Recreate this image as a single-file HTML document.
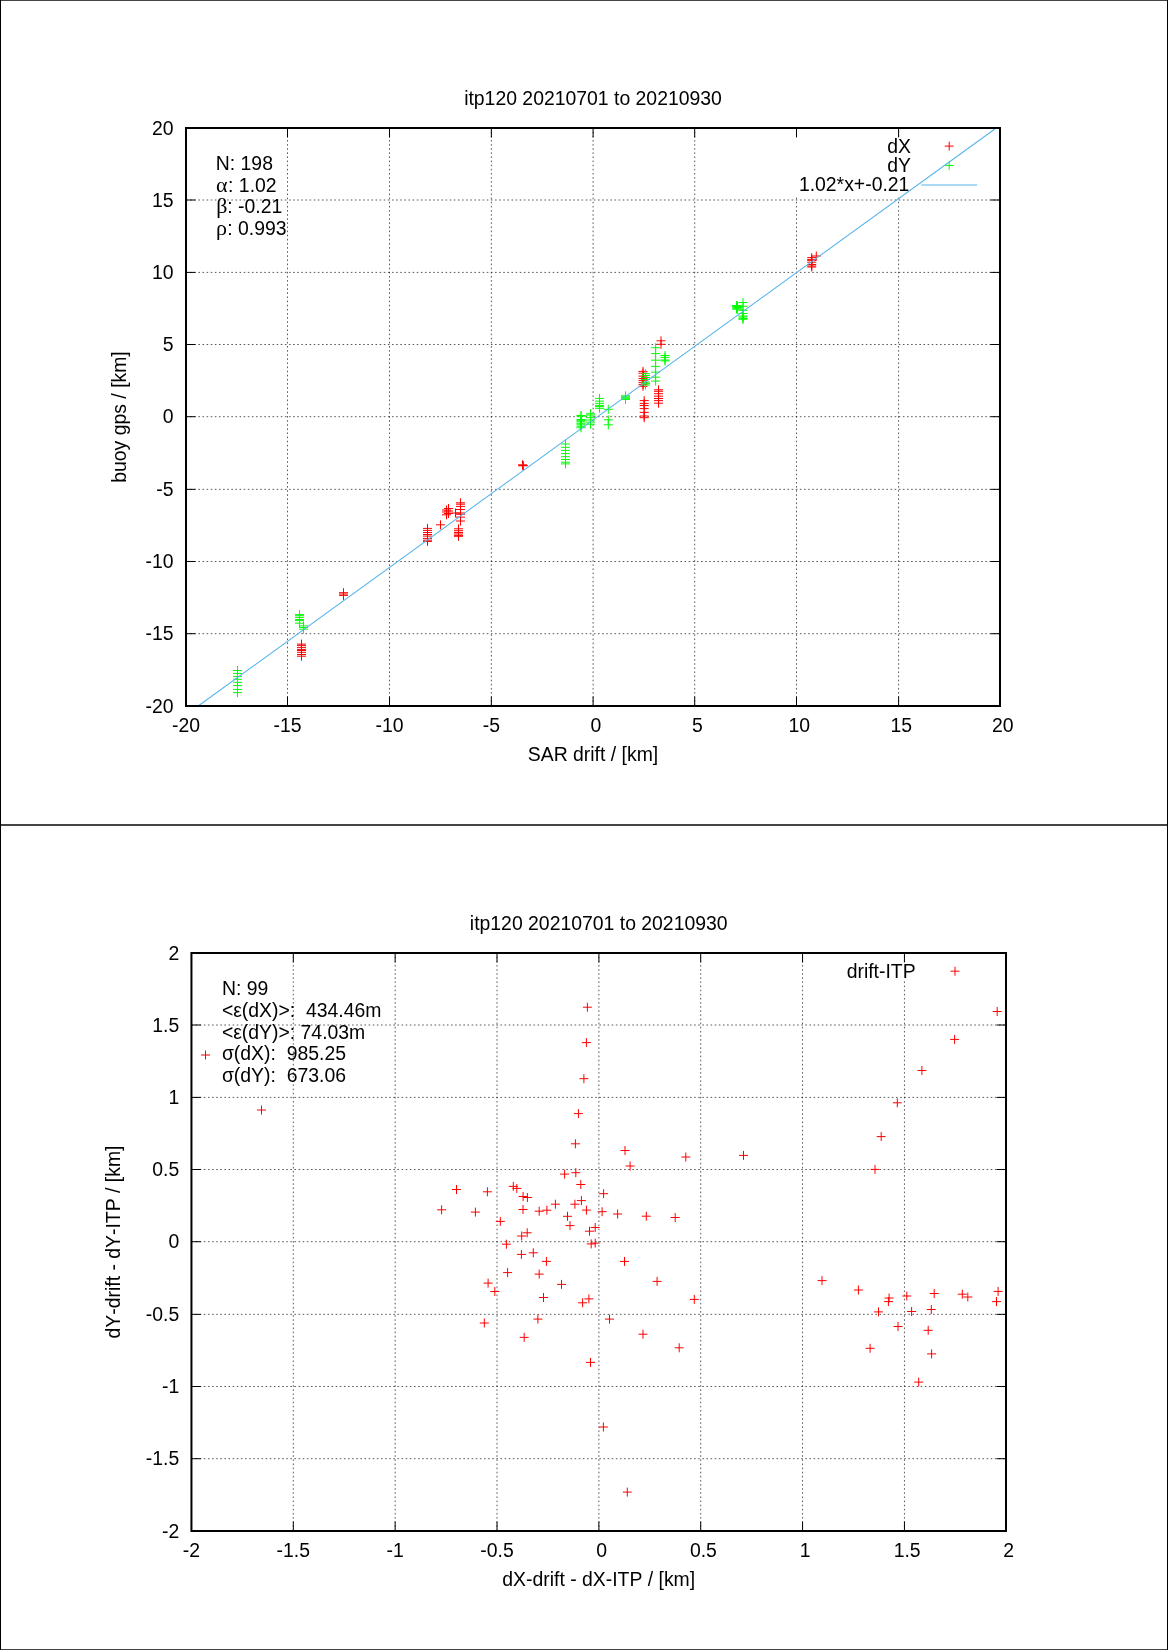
<!DOCTYPE html><html><head><meta charset="utf-8"><title>itp120 drift</title><style>html,body{margin:0;padding:0;background:#fff}body{width:1168px;height:1650px;overflow:hidden}svg{display:block}text{white-space:pre;font-kerning:none}</style></head><body>
<svg width="1168" height="1650" viewBox="0 0 1168 1650" style="will-change:transform">
<rect x="0" y="0" width="1168" height="1650" fill="#fff"/>
<g>
<path d="M186.000 706.000v-9.4M186.000 128.000v9.4M287.500 706.000v-9.4M287.500 128.000v9.4M389.500 706.000v-9.4M389.500 128.000v9.4M491.350 706.000v-9.4M491.350 128.000v9.4M593.100 706.000v-9.4M593.100 128.000v9.4M694.700 706.000v-9.4M694.700 128.000v9.4M796.500 706.000v-9.4M796.500 128.000v9.4M898.600 706.000v-9.4M898.600 128.000v9.4M1000.000 706.000v-9.4M1000.000 128.000v9.4M186.000 706.000h9.4M1000.000 706.000h-9.4M186.000 633.700h9.4M1000.000 633.700h-9.4M186.000 561.500h9.4M1000.000 561.500h-9.4M186.000 489.350h9.4M1000.000 489.350h-9.4M186.000 416.700h9.4M1000.000 416.700h-9.4M186.000 344.500h9.4M1000.000 344.500h-9.4M186.000 272.400h9.4M1000.000 272.400h-9.4M186.000 200.000h9.4M1000.000 200.000h-9.4M186.000 128.000h9.4M1000.000 128.000h-9.4" stroke="#000" stroke-width="1" fill="none"/>
<text x="186.00" y="732.20" text-anchor="middle" font-size="19.4" font-family="'Liberation Sans', Arial, Helvetica, sans-serif" >-20</text>
<text x="287.50" y="732.20" text-anchor="middle" font-size="19.4" font-family="'Liberation Sans', Arial, Helvetica, sans-serif" >-15</text>
<text x="389.50" y="732.20" text-anchor="middle" font-size="19.4" font-family="'Liberation Sans', Arial, Helvetica, sans-serif" >-10</text>
<text x="491.35" y="732.20" text-anchor="middle" font-size="19.4" font-family="'Liberation Sans', Arial, Helvetica, sans-serif" >-5</text>
<text x="593.10" y="732.20" text-anchor="middle" font-size="19.4" font-family="'Liberation Sans', Arial, Helvetica, sans-serif" > 0</text>
<text x="694.70" y="732.20" text-anchor="middle" font-size="19.4" font-family="'Liberation Sans', Arial, Helvetica, sans-serif" > 5</text>
<text x="796.50" y="732.20" text-anchor="middle" font-size="19.4" font-family="'Liberation Sans', Arial, Helvetica, sans-serif" > 10</text>
<text x="898.60" y="732.20" text-anchor="middle" font-size="19.4" font-family="'Liberation Sans', Arial, Helvetica, sans-serif" > 15</text>
<text x="1000.00" y="732.20" text-anchor="middle" font-size="19.4" font-family="'Liberation Sans', Arial, Helvetica, sans-serif" > 20</text>
<text x="173.60" y="712.50" text-anchor="end" font-size="19.4" font-family="'Liberation Sans', Arial, Helvetica, sans-serif" >-20</text>
<text x="173.60" y="640.20" text-anchor="end" font-size="19.4" font-family="'Liberation Sans', Arial, Helvetica, sans-serif" >-15</text>
<text x="173.60" y="568.00" text-anchor="end" font-size="19.4" font-family="'Liberation Sans', Arial, Helvetica, sans-serif" >-10</text>
<text x="173.60" y="495.85" text-anchor="end" font-size="19.4" font-family="'Liberation Sans', Arial, Helvetica, sans-serif" >-5</text>
<text x="173.60" y="423.20" text-anchor="end" font-size="19.4" font-family="'Liberation Sans', Arial, Helvetica, sans-serif" > 0</text>
<text x="173.60" y="351.00" text-anchor="end" font-size="19.4" font-family="'Liberation Sans', Arial, Helvetica, sans-serif" > 5</text>
<text x="173.60" y="278.90" text-anchor="end" font-size="19.4" font-family="'Liberation Sans', Arial, Helvetica, sans-serif" > 10</text>
<text x="173.60" y="206.50" text-anchor="end" font-size="19.4" font-family="'Liberation Sans', Arial, Helvetica, sans-serif" > 15</text>
<text x="173.60" y="134.50" text-anchor="end" font-size="19.4" font-family="'Liberation Sans', Arial, Helvetica, sans-serif" > 20</text>
<text x="593.00" y="105.00" text-anchor="middle" font-size="19.4" font-family="'Liberation Sans', Arial, Helvetica, sans-serif" >itp120 20210701 to 20210930</text>
<text x="593.00" y="761.10" text-anchor="middle" font-size="19.4" font-family="'Liberation Sans', Arial, Helvetica, sans-serif" >SAR drift / [km]</text>
<text x="0" y="0" transform="translate(126.30 417.00) rotate(-90)" text-anchor="middle" font-size="19.4" font-family="'Liberation Sans', Arial, Helvetica, sans-serif">buoy gps / [km]</text>
<text x="215.80" y="170.00" text-anchor="start" font-size="19.4" font-family="'Liberation Sans', Arial, Helvetica, sans-serif" >N: 198</text>
<text y="191.7" font-size="19.4" font-family="'Liberation Sans', Arial, Helvetica, sans-serif"><tspan x="215.9" font-family="'Liberation Serif', 'Times New Roman', serif" font-size="22">α</tspan><tspan x="228.1">: 1.02</tspan></text>
<text y="213.4" font-size="19.4" font-family="'Liberation Sans', Arial, Helvetica, sans-serif"><tspan x="216.3" font-family="'Liberation Serif', 'Times New Roman', serif" font-size="22">β</tspan><tspan x="227.3">: -0.21</tspan></text>
<text y="235.1" font-size="19.4" font-family="'Liberation Sans', Arial, Helvetica, sans-serif"><tspan x="216.0" font-family="'Liberation Serif', 'Times New Roman', serif" font-size="22">ρ</tspan><tspan x="227.3">: 0.993</tspan></text>
<text x="910.90" y="152.90" text-anchor="end" font-size="19.4" font-family="'Liberation Sans', Arial, Helvetica, sans-serif" >dX</text>
<text x="910.90" y="171.90" text-anchor="end" font-size="19.4" font-family="'Liberation Sans', Arial, Helvetica, sans-serif" >dY</text>
<text x="909.40" y="190.90" text-anchor="end" font-size="19.4" font-family="'Liberation Sans', Arial, Helvetica, sans-serif" >1.02*x+-0.21</text>
<path d="M287.500 706.000V128.000M389.500 706.000V128.000M491.350 706.000V128.000M593.100 706.000V128.000M694.700 706.000V128.000M796.500 706.000V196.000M796.500 136.500V128.000M898.600 706.000V196.000M898.600 136.500V128.000M186.000 633.700H1000.000M186.000 561.500H1000.000M186.000 489.350H1000.000M186.000 416.700H1000.000M186.000 344.500H1000.000M186.000 272.400H1000.000M186.000 200.000H1000.000" stroke="#000" stroke-width="0.65" stroke-dasharray="1.6 2.52" fill="none"/>
<path d="M297.00 644.10h9.00M301.50 639.60v9.00M297.00 645.40h9.00M301.50 640.90v9.00M297.00 647.40h9.00M301.50 642.90v9.00M297.00 649.40h9.00M301.50 644.90v9.00M297.00 650.50h9.00M301.50 646.00v9.00M297.00 652.30h9.00M301.50 647.80v9.00M297.00 654.50h9.00M301.50 650.00v9.00M297.00 656.20h9.00M301.50 651.70v9.00M339.00 592.70h9.00M343.50 588.20v9.00M339.00 594.00h9.00M343.50 589.50v9.00M339.00 595.40h9.00M343.50 590.90v9.00M423.00 528.40h9.00M427.50 523.90v9.00M423.00 530.40h9.00M427.50 525.90v9.00M423.00 532.50h9.00M427.50 528.00v9.00M423.00 534.50h9.00M427.50 530.00v9.00M423.00 536.10h9.00M427.50 531.60v9.00M423.00 538.40h9.00M427.50 533.90v9.00M423.00 540.20h9.00M427.50 535.70v9.00M423.00 541.40h9.00M427.50 536.90v9.00M436.00 524.80h9.00M440.50 520.30v9.00M442.00 510.00h9.00M446.50 505.50v9.00M442.00 512.00h9.00M446.50 507.50v9.00M442.00 514.80h9.00M446.50 510.30v9.00M444.00 508.50h9.00M448.50 504.00v9.00M444.00 511.00h9.00M448.50 506.50v9.00M444.00 513.50h9.00M448.50 509.00v9.00M451.00 513.00h9.00M455.50 508.50v9.00M456.00 502.80h9.00M460.50 498.30v9.00M456.00 504.20h9.00M460.50 499.70v9.00M456.00 506.40h9.00M460.50 501.90v9.00M456.00 509.50h9.00M460.50 505.00v9.00M456.00 513.00h9.00M460.50 508.50v9.00M456.00 514.30h9.00M460.50 509.80v9.00M456.00 517.10h9.00M460.50 512.60v9.00M456.00 521.00h9.00M460.50 516.50v9.00M454.00 528.80h9.00M458.50 524.30v9.00M454.00 530.70h9.00M458.50 526.20v9.00M454.00 532.50h9.00M458.50 528.00v9.00M454.00 534.00h9.00M458.50 529.50v9.00M454.00 535.60h9.00M458.50 531.10v9.00M454.00 536.30h9.00M458.50 531.80v9.00M518.00 464.80h9.00M522.50 460.30v9.00M518.80 465.50h9.00M523.30 461.00v9.00M518.30 465.80h9.00M522.80 461.30v9.00M638.50 371.40h9.00M643.00 366.90v9.00M638.50 373.20h9.00M643.00 368.70v9.00M638.50 376.10h9.00M643.00 371.60v9.00M638.50 378.40h9.00M643.00 373.90v9.00M638.50 380.40h9.00M643.00 375.90v9.00M638.50 382.40h9.00M643.00 377.90v9.00M638.50 384.40h9.00M643.00 379.90v9.00M638.50 386.30h9.00M643.00 381.80v9.00M639.70 400.60h9.00M644.20 396.10v9.00M639.70 403.40h9.00M644.20 398.90v9.00M639.70 405.50h9.00M644.20 401.00v9.00M639.70 408.60h9.00M644.20 404.10v9.00M639.70 412.40h9.00M644.20 407.90v9.00M639.70 416.00h9.00M644.20 411.50v9.00M639.70 417.70h9.00M644.20 413.20v9.00M656.50 340.80h9.00M661.00 336.30v9.00M656.50 344.30h9.00M661.00 339.80v9.00M654.00 389.80h9.00M658.50 385.30v9.00M654.00 391.30h9.00M658.50 386.80v9.00M654.00 393.70h9.00M658.50 389.20v9.00M654.00 396.20h9.00M658.50 391.70v9.00M654.00 398.50h9.00M658.50 394.00v9.00M654.00 400.60h9.00M658.50 396.10v9.00M654.00 403.20h9.00M658.50 398.70v9.00M807.20 257.60h9.00M811.70 253.10v9.00M807.20 259.40h9.00M811.70 254.90v9.00M807.20 260.40h9.00M811.70 255.90v9.00M807.20 262.20h9.00M811.70 257.70v9.00M807.20 264.50h9.00M811.70 260.00v9.00M807.20 266.00h9.00M811.70 261.50v9.00M807.20 267.00h9.00M811.70 262.50v9.00M811.80 256.00h9.00M816.30 251.50v9.00M944.70 146.10h9.00M949.20 141.60v9.00" stroke="#ff0000" stroke-width="1" fill="none"/>
<path d="M233.00 670.50h9.00M237.50 666.00v9.00M233.00 673.40h9.00M237.50 668.90v9.00M233.00 676.40h9.00M237.50 671.90v9.00M233.00 679.30h9.00M237.50 674.80v9.00M233.00 682.30h9.00M237.50 677.80v9.00M233.00 685.60h9.00M237.50 681.10v9.00M233.00 689.40h9.00M237.50 684.90v9.00M233.00 692.60h9.00M237.50 688.10v9.00M295.00 614.60h9.00M299.50 610.10v9.00M295.00 615.70h9.00M299.50 611.20v9.00M295.00 617.40h9.00M299.50 612.90v9.00M295.00 619.50h9.00M299.50 615.00v9.00M295.00 620.60h9.00M299.50 616.10v9.00M295.00 623.20h9.00M299.50 618.70v9.00M299.00 625.90h9.00M303.50 621.40v9.00M299.00 627.50h9.00M303.50 623.00v9.00M299.00 629.20h9.00M303.50 624.70v9.00M561.00 444.00h9.00M565.50 439.50v9.00M561.00 447.30h9.00M565.50 442.80v9.00M561.00 450.40h9.00M565.50 445.90v9.00M561.00 453.60h9.00M565.50 449.10v9.00M561.00 456.70h9.00M565.50 452.20v9.00M561.00 459.50h9.00M565.50 455.00v9.00M561.00 462.20h9.00M565.50 457.70v9.00M561.00 463.90h9.00M565.50 459.40v9.00M576.50 415.50h9.00M581.00 411.00v9.00M576.50 416.20h9.00M581.00 411.70v9.00M576.50 419.50h9.00M581.00 415.00v9.00M576.50 420.70h9.00M581.00 416.20v9.00M576.50 421.80h9.00M581.00 417.30v9.00M576.50 423.30h9.00M581.00 418.80v9.00M576.50 424.80h9.00M581.00 420.30v9.00M576.50 426.30h9.00M581.00 421.80v9.00M576.50 427.80h9.00M581.00 423.30v9.00M586.00 413.80h9.00M590.50 409.30v9.00M586.00 415.00h9.00M590.50 410.50v9.00M586.00 417.70h9.00M590.50 413.20v9.00M586.00 420.00h9.00M590.50 415.50v9.00M586.00 422.10h9.00M590.50 417.60v9.00M586.00 424.20h9.00M590.50 419.70v9.00M595.00 398.40h9.00M599.50 393.90v9.00M595.00 401.10h9.00M599.50 396.60v9.00M595.00 403.30h9.00M599.50 398.80v9.00M595.00 405.40h9.00M599.50 400.90v9.00M595.00 406.60h9.00M599.50 402.10v9.00M595.00 408.30h9.00M599.50 403.80v9.00M603.80 409.30h9.00M608.30 404.80v9.00M603.80 419.80h9.00M608.30 415.30v9.00M603.80 424.80h9.00M608.30 420.30v9.00M621.00 395.80h9.00M625.50 391.30v9.00M621.00 396.80h9.00M625.50 392.30v9.00M621.00 397.80h9.00M625.50 393.30v9.00M621.00 398.80h9.00M625.50 394.30v9.00M621.00 399.40h9.00M625.50 394.90v9.00M641.00 373.70h9.00M645.50 369.20v9.00M641.00 375.50h9.00M645.50 371.00v9.00M641.00 377.50h9.00M645.50 373.00v9.00M641.00 379.50h9.00M645.50 375.00v9.00M641.00 382.10h9.00M645.50 377.60v9.00M641.00 383.60h9.00M645.50 379.10v9.00M641.00 385.00h9.00M645.50 380.50v9.00M651.10 347.70h9.00M655.60 343.20v9.00M651.10 353.60h9.00M655.60 349.10v9.00M651.10 360.20h9.00M655.60 355.70v9.00M651.10 366.40h9.00M655.60 361.90v9.00M651.10 372.10h9.00M655.60 367.60v9.00M651.10 377.20h9.00M655.60 372.70v9.00M651.10 381.10h9.00M655.60 376.60v9.00M660.50 355.50h9.00M665.00 351.00v9.00M660.50 357.40h9.00M665.00 352.90v9.00M660.50 360.00h9.00M665.00 355.50v9.00M660.50 360.90h9.00M665.00 356.40v9.00M732.00 305.60h9.00M736.50 301.10v9.00M732.00 306.40h9.00M736.50 301.90v9.00M732.00 307.80h9.00M736.50 303.30v9.00M732.00 309.00h9.00M736.50 304.50v9.00M733.00 305.80h9.00M737.50 301.30v9.00M733.00 307.50h9.00M737.50 303.00v9.00M733.00 309.10h9.00M737.50 304.60v9.00M738.50 302.50h9.00M743.00 298.00v9.00M738.50 306.30h9.00M743.00 301.80v9.00M738.50 310.40h9.00M743.00 305.90v9.00M738.50 313.50h9.00M743.00 309.00v9.00M738.50 316.00h9.00M743.00 311.50v9.00M738.50 317.10h9.00M743.00 312.60v9.00M738.50 318.60h9.00M743.00 314.10v9.00M738.50 319.30h9.00M743.00 314.80v9.00M944.70 165.40h9.00M949.20 160.90v9.00" stroke="#00ff00" stroke-width="1" fill="none"/>
<path d="M198.17 706.00L996.21 128.00M921.4 184.9H977" stroke="#56b4e9" stroke-width="1.05" fill="none"/>
<rect x="186" y="128" width="814" height="578" fill="none" stroke="#000" stroke-width="2"/>
</g>
<g>
<path d="M191.450 1531.000v-9.4M191.450 953.000v9.4M293.300 1531.000v-9.4M293.300 953.000v9.4M395.150 1531.000v-9.4M395.150 953.000v9.4M497.000 1531.000v-9.4M497.000 953.000v9.4M598.900 1531.000v-9.4M598.900 953.000v9.4M700.700 1531.000v-9.4M700.700 953.000v9.4M802.550 1531.000v-9.4M802.550 953.000v9.4M904.450 1531.000v-9.4M904.450 953.000v9.4M1006.000 1531.000v-9.4M1006.000 953.000v9.4M191.450 1531.000h9.4M1006.000 1531.000h-9.4M191.450 1458.700h9.4M1006.000 1458.700h-9.4M191.450 1386.500h9.4M1006.000 1386.500h-9.4M191.450 1314.350h9.4M1006.000 1314.350h-9.4M191.450 1241.700h9.4M1006.000 1241.700h-9.4M191.450 1169.500h9.4M1006.000 1169.500h-9.4M191.450 1097.400h9.4M1006.000 1097.400h-9.4M191.450 1025.000h9.4M1006.000 1025.000h-9.4M191.450 953.000h9.4M1006.000 953.000h-9.4" stroke="#000" stroke-width="1" fill="none"/>
<text x="191.45" y="1557.20" text-anchor="middle" font-size="19.4" font-family="'Liberation Sans', Arial, Helvetica, sans-serif" >-2</text>
<text x="293.30" y="1557.20" text-anchor="middle" font-size="19.4" font-family="'Liberation Sans', Arial, Helvetica, sans-serif" >-1.5</text>
<text x="395.15" y="1557.20" text-anchor="middle" font-size="19.4" font-family="'Liberation Sans', Arial, Helvetica, sans-serif" >-1</text>
<text x="497.00" y="1557.20" text-anchor="middle" font-size="19.4" font-family="'Liberation Sans', Arial, Helvetica, sans-serif" >-0.5</text>
<text x="598.90" y="1557.20" text-anchor="middle" font-size="19.4" font-family="'Liberation Sans', Arial, Helvetica, sans-serif" > 0</text>
<text x="700.70" y="1557.20" text-anchor="middle" font-size="19.4" font-family="'Liberation Sans', Arial, Helvetica, sans-serif" > 0.5</text>
<text x="802.55" y="1557.20" text-anchor="middle" font-size="19.4" font-family="'Liberation Sans', Arial, Helvetica, sans-serif" > 1</text>
<text x="904.45" y="1557.20" text-anchor="middle" font-size="19.4" font-family="'Liberation Sans', Arial, Helvetica, sans-serif" > 1.5</text>
<text x="1006.00" y="1557.20" text-anchor="middle" font-size="19.4" font-family="'Liberation Sans', Arial, Helvetica, sans-serif" > 2</text>
<text x="179.20" y="1537.50" text-anchor="end" font-size="19.4" font-family="'Liberation Sans', Arial, Helvetica, sans-serif" >-2</text>
<text x="179.20" y="1465.20" text-anchor="end" font-size="19.4" font-family="'Liberation Sans', Arial, Helvetica, sans-serif" >-1.5</text>
<text x="179.20" y="1393.00" text-anchor="end" font-size="19.4" font-family="'Liberation Sans', Arial, Helvetica, sans-serif" >-1</text>
<text x="179.20" y="1320.85" text-anchor="end" font-size="19.4" font-family="'Liberation Sans', Arial, Helvetica, sans-serif" >-0.5</text>
<text x="179.20" y="1248.20" text-anchor="end" font-size="19.4" font-family="'Liberation Sans', Arial, Helvetica, sans-serif" > 0</text>
<text x="179.20" y="1176.00" text-anchor="end" font-size="19.4" font-family="'Liberation Sans', Arial, Helvetica, sans-serif" > 0.5</text>
<text x="179.20" y="1103.90" text-anchor="end" font-size="19.4" font-family="'Liberation Sans', Arial, Helvetica, sans-serif" > 1</text>
<text x="179.20" y="1031.50" text-anchor="end" font-size="19.4" font-family="'Liberation Sans', Arial, Helvetica, sans-serif" > 1.5</text>
<text x="179.20" y="959.50" text-anchor="end" font-size="19.4" font-family="'Liberation Sans', Arial, Helvetica, sans-serif" > 2</text>
<text x="598.73" y="930.00" text-anchor="middle" font-size="19.4" font-family="'Liberation Sans', Arial, Helvetica, sans-serif" >itp120 20210701 to 20210930</text>
<text x="598.73" y="1586.10" text-anchor="middle" font-size="19.4" font-family="'Liberation Sans', Arial, Helvetica, sans-serif" >dX-drift - dX-ITP / [km]</text>
<text x="0" y="0" transform="translate(120.30 1242.00) rotate(-90)" text-anchor="middle" font-size="19.4" font-family="'Liberation Sans', Arial, Helvetica, sans-serif">dY-drift - dY-ITP / [km]</text>
<text x="221.90" y="995.00" text-anchor="start" font-size="19.4" font-family="'Liberation Sans', Arial, Helvetica, sans-serif" >N: 99</text>
<text x="221.90" y="1016.80" text-anchor="start" font-size="19.4" font-family="'Liberation Sans', Arial, Helvetica, sans-serif" >&lt;ε(dX)&gt;:  434.46m</text>
<text x="221.90" y="1038.50" text-anchor="start" font-size="19.4" font-family="'Liberation Sans', Arial, Helvetica, sans-serif" >&lt;ε(dY)&gt;: 74.03m</text>
<text x="221.90" y="1060.20" text-anchor="start" font-size="19.4" font-family="'Liberation Sans', Arial, Helvetica, sans-serif" >σ(dX):  985.25</text>
<text x="221.90" y="1081.90" text-anchor="start" font-size="19.4" font-family="'Liberation Sans', Arial, Helvetica, sans-serif" >σ(dY):  673.06</text>
<text x="915.60" y="977.90" text-anchor="end" font-size="19.4" font-family="'Liberation Sans', Arial, Helvetica, sans-serif" >drift-ITP</text>
<path d="M293.300 1531.000V953.000M395.150 1531.000V953.000M497.000 1531.000V953.000M598.900 1531.000V953.000M700.700 1531.000V953.000M802.550 1531.000V953.000M904.450 1531.000V980.600M904.450 961.800V953.000M191.450 1458.700H1006.000M191.450 1386.500H1006.000M191.450 1314.350H1006.000M191.450 1241.700H1006.000M191.450 1169.500H1006.000M191.450 1097.400H1006.000M191.450 1025.000H1006.000" stroke="#000" stroke-width="0.65" stroke-dasharray="1.6 2.52" fill="none"/>
<path d="M201.00 1055.00h9.00M205.50 1050.50v9.00M257.00 1110.00h9.00M261.50 1105.50v9.00M582.90 1007.20h9.00M587.40 1002.70v9.00M581.90 1042.60h9.00M586.40 1038.10v9.00M579.40 1078.70h9.00M583.90 1074.20v9.00M573.90 1113.60h9.00M578.40 1109.10v9.00M992.70 1011.50h9.00M997.20 1007.00v9.00M950.10 1039.40h9.00M954.60 1034.90v9.00M917.40 1070.50h9.00M921.90 1066.00v9.00M570.90 1143.80h9.00M575.40 1139.30v9.00M620.50 1150.50h9.00M625.00 1146.00v9.00M625.60 1166.00h9.00M630.10 1161.50v9.00M560.10 1174.10h9.00M564.60 1169.60v9.00M571.30 1172.70h9.00M575.80 1168.20v9.00M576.30 1184.50h9.00M580.80 1180.00v9.00M452.00 1189.50h9.00M456.50 1185.00v9.00M482.90 1191.80h9.00M487.40 1187.30v9.00M508.80 1186.40h9.00M513.30 1181.90v9.00M512.30 1188.40h9.00M516.80 1183.90v9.00M518.60 1196.50h9.00M523.10 1192.00v9.00M522.90 1197.50h9.00M527.40 1193.00v9.00M437.10 1209.80h9.00M441.60 1205.30v9.00M470.90 1212.10h9.00M475.40 1207.60v9.00M518.50 1209.50h9.00M523.00 1205.00v9.00M534.70 1211.20h9.00M539.20 1206.70v9.00M542.40 1210.20h9.00M546.90 1205.70v9.00M550.90 1204.20h9.00M555.40 1199.70v9.00M570.40 1204.20h9.00M574.90 1199.70v9.00M576.90 1200.60h9.00M581.40 1196.10v9.00M581.90 1210.10h9.00M586.40 1205.60v9.00M495.80 1221.40h9.00M500.30 1216.90v9.00M563.00 1216.30h9.00M567.50 1211.80v9.00M565.50 1225.60h9.00M570.00 1221.10v9.00M585.00 1231.20h9.00M589.50 1226.70v9.00M590.70 1227.50h9.00M595.20 1223.00v9.00M517.20 1236.00h9.00M521.70 1231.50v9.00M522.70 1232.80h9.00M527.20 1228.30v9.00M599.10 1193.70h9.00M603.60 1189.20v9.00M597.60 1211.70h9.00M602.10 1207.20v9.00M613.10 1214.00h9.00M617.60 1209.50v9.00M641.80 1216.20h9.00M646.30 1211.70v9.00M501.90 1244.20h9.00M506.40 1239.70v9.00M586.70 1243.90h9.00M591.20 1239.40v9.00M590.70 1243.10h9.00M595.20 1238.60v9.00M541.90 1261.40h9.00M546.40 1256.90v9.00M620.00 1261.40h9.00M624.50 1256.90v9.00M652.60 1281.40h9.00M657.10 1276.90v9.00M557.00 1284.40h9.00M561.50 1279.90v9.00M539.00 1297.50h9.00M543.50 1293.00v9.00M584.40 1298.90h9.00M588.90 1294.40v9.00M516.90 1254.40h9.00M521.40 1249.90v9.00M528.80 1252.80h9.00M533.30 1248.30v9.00M503.10 1272.60h9.00M507.60 1268.10v9.00M534.70 1274.10h9.00M539.20 1269.60v9.00M483.60 1283.10h9.00M488.10 1278.60v9.00M490.30 1291.50h9.00M494.80 1287.00v9.00M479.80 1323.00h9.00M484.30 1318.50v9.00M533.40 1319.10h9.00M537.90 1314.60v9.00M578.10 1302.80h9.00M582.60 1298.30v9.00M605.00 1319.10h9.00M609.50 1314.60v9.00M519.70 1337.40h9.00M524.20 1332.90v9.00M638.50 1334.20h9.00M643.00 1329.70v9.00M674.70 1347.80h9.00M679.20 1343.30v9.00M586.00 1362.40h9.00M590.50 1357.90v9.00M598.90 1427.00h9.00M603.40 1422.50v9.00M622.80 1492.10h9.00M627.30 1487.60v9.00M681.30 1157.00h9.00M685.80 1152.50v9.00M739.00 1155.40h9.00M743.50 1150.90v9.00M670.70 1217.50h9.00M675.20 1213.00v9.00M689.80 1299.40h9.00M694.30 1294.90v9.00M817.50 1280.60h9.00M822.00 1276.10v9.00M892.80 1102.80h9.00M897.30 1098.30v9.00M876.70 1136.60h9.00M881.20 1132.10v9.00M870.50 1169.40h9.00M875.00 1164.90v9.00M853.90 1290.00h9.00M858.40 1285.50v9.00M884.60 1298.00h9.00M889.10 1293.50v9.00M883.90 1301.60h9.00M888.40 1297.10v9.00M874.00 1311.90h9.00M878.50 1307.40v9.00M902.30 1296.00h9.00M906.80 1291.50v9.00M907.10 1311.50h9.00M911.60 1307.00v9.00M893.50 1326.50h9.00M898.00 1322.00v9.00M929.70 1293.50h9.00M934.20 1289.00v9.00M926.80 1309.50h9.00M931.30 1305.00v9.00M923.70 1330.30h9.00M928.20 1325.80v9.00M865.60 1348.30h9.00M870.10 1343.80v9.00M927.10 1353.90h9.00M931.60 1349.40v9.00M957.80 1294.20h9.00M962.30 1289.70v9.00M963.30 1297.00h9.00M967.80 1292.50v9.00M993.60 1291.40h9.00M998.10 1286.90v9.00M992.00 1301.60h9.00M996.50 1297.10v9.00M914.20 1382.10h9.00M918.70 1377.60v9.00M950.50 971.20h9.00M955.00 966.70v9.00" stroke="#ff0000" stroke-width="1" fill="none"/>
<rect x="191.45" y="953" width="814.55" height="578" fill="none" stroke="#000" stroke-width="2"/>
</g>
<rect x="0" y="0" width="1168" height="1" fill="#444"/>
<rect x="0" y="824" width="1168" height="2" fill="#444"/>
<rect x="0" y="1649" width="1168" height="1" fill="#444"/>
<rect x="0" y="0" width="1" height="1650" fill="#000"/>
<rect x="1167" y="0" width="1" height="1650" fill="#000"/>
</svg></body></html>
